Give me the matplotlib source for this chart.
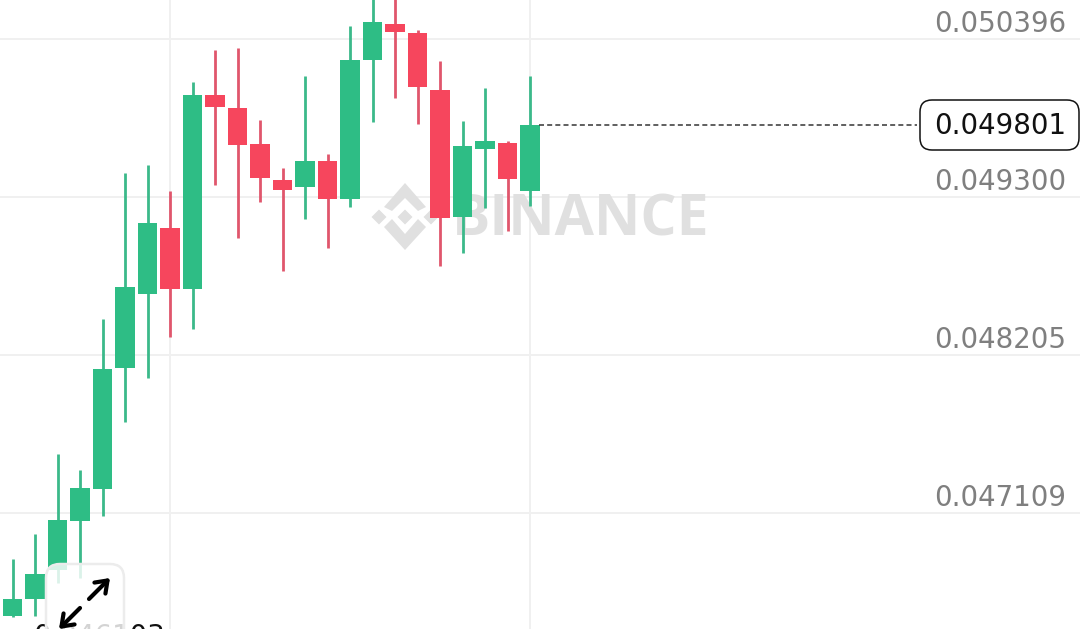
import matplotlib
matplotlib.use("Agg")
import matplotlib.pyplot as plt
from matplotlib.patches import FancyBboxPatch, Polygon
from matplotlib.transforms import Affine2D

opens = [.046394,.046511,.046713,.047053,.047274,.048114,.048627,.049085,.048662,.050008,.049917,.049668,
         .049418,.049369,.049550,.049286,.050250,.050500,.050438,.050042,.049161,.049633,.049675,.049342]
closes = [.046511,.046685,.047059,.047281,.048107,.048676,.049120,.048662,.050008,.049924,.049661,.049432,
          .049349,.049550,.049286,.050250,.050514,.050445,.050063,.049154,.049654,.049688,.049425,.049801]
highs = [.046789,.046962,.047517,.047406,.048454,.049466,.049522,.049342,.050098,.050320,.050334,.049834,
         .049501,.050139,.049598,.050486,.050701,.050701,.050458,.050243,.049827,.050056,.049688,.050139]
lows = [.046387,.046394,.046622,.046657,.047087,.047739,.048044,.048329,.048384,.049383,.049016,.049265,
        .048787,.049147,.048946,.049231,.049820,.049987,.049806,.048821,.048912,.049224,.049064,.049238]
tick_values = [.050396,.049300,.048205,.047109]
tick_labels = ["0.050396","0.049300","0.048205","0.047109"]
last_price = .049801
last_label = "0.049801"
vgrid_candles = [7,23]
hidden_label = "0.046103"

W,H = 1080,629
GREEN,RED = "#2ebd85","#f6465d"
WICK_G,WICK_R = "#3bb98a","#e0566c"
FONT = "DejaVu Sans"
FS = 19.9
fig = plt.figure(figsize=(W/100,H/100),dpi=100,facecolor="white")
ax = fig.add_axes([0,0,1,1])
ax.set_xlim(-0.5556,47.444)
ax.set_ylim(.0463033,.0506665)
ax.axis("off")
px = Affine2D().scale(1,-1).translate(0,H)

for v in tick_values:
    ax.axhline(v,color="#f0f0f0",lw=1.4,zorder=1)
for c in vgrid_candles:
    ax.axvline(c,color="#f0f0f0",lw=1.4,zorder=1)

# watermark under candles
logo = "#e0e0e0"
cx,cy = 405,217
def diamond(x,y,r):
    return [(x,y-r),(x+r,y),(x,y+r),(x-r,y)]
for x,y,r in [(cx-26,cy,7.5),(cx+26,cy,7.5),(cx,cy,7.5)]:
    ax.add_patch(Polygon(diamond(x,y,r),transform=px,fc=logo,ec="none",zorder=2))
top = [(cx,cy-34),(cx+21,cy-10),(cx+13,cy-6),(cx,cy-19),(cx-13,cy-6),(cx-21,cy-10)]
bot = [(cx,cy+33),(cx+21,cy+10),(cx+13,cy+2),(cx,cy+17),(cx-13,cy+2),(cx-21,cy+10)]
ax.add_patch(Polygon(top,transform=px,fc=logo,ec="none",zorder=2))
ax.add_patch(Polygon(bot,transform=px,fc=logo,ec="none",zorder=2))
ax.text(581,220,"BINANCE",transform=px,ha="center",va="center",fontsize=41,fontweight="bold",
        color=logo,family="Open Sans",zorder=2)

# candles
for i,(o,c,h,l) in enumerate(zip(opens,closes,highs,lows)):
    up = c>=o
    ax.vlines(i,l,h,color=WICK_G if up else WICK_R,lw=2.0,zorder=3)
    ax.bar(i,abs(c-o),bottom=min(o,c),width=0.86,color=GREEN if up else RED,lw=0,zorder=4)

# last price
ax.plot([23.4,40.2],[last_price,last_price],color="#444444",lw=1.2,dashes=(3,1.9),zorder=5)
ax.add_patch(FancyBboxPatch((926,106),147,38,boxstyle="round,pad=6,rounding_size=12",transform=px,
                            fc="white",ec="#111111",lw=1.1,zorder=6))
ax.text(1066,126,last_label,transform=px,ha="right",va="center",fontsize=FS,color="#111111",family=FONT,zorder=7)

# tick labels sit above their grid lines
for v,s in zip(tick_values,tick_labels):
    ax.annotate(s,(1066,v),xycoords=("figure pixels","data"),
                xytext=(0,10.5),textcoords="offset points",ha="right",va="center",fontsize=FS,color="#7f7f7f",family=FONT,zorder=5)

# hidden price text at the bottom, expand button above it
ax.text(99,637,hidden_label,transform=px,ha="center",va="center",fontsize=FS,color="#111111",family=FONT,zorder=7,clip_on=True)
ax.add_patch(FancyBboxPatch((54,572),62,70,boxstyle="round,pad=8,rounding_size=14",transform=px,
                            fc=(1,1,1,0.82),ec="#ececec",lw=1.8,zorder=8,clip_on=True))
for a,b in [((89,599),(110,578)),((80,608),(59,629))]:
    ax.annotate("",xy=b,xytext=a,xycoords=px,textcoords=px,
                arrowprops=dict(arrowstyle="->,head_length=0.55,head_width=0.4",mutation_scale=14,
                                color="black",lw=3.0,shrinkA=0,shrinkB=0,capstyle="round"),zorder=9)
fig.savefig("out.png",dpi=100)
